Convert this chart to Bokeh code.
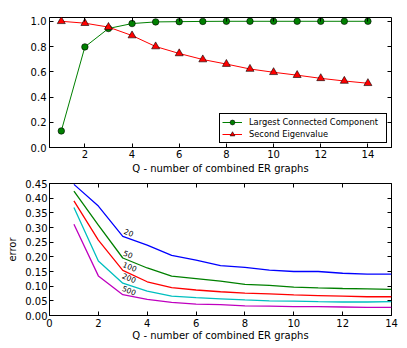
from bokeh.plotting import figure
from bokeh.models import Range1d, LinearAxis, FixedTicker, PrintfTickFormatter
from bokeh.layouts import column
from bokeh.core.properties import value
from bokeh.embed import file_html
from bokeh.resources import INLINE

# ---------------- data ----------------
q = [1, 2, 3, 4, 5, 6, 7, 8, 9, 10, 11, 12, 13, 14]
lcc = [0.131, 0.797, 0.943, 0.982, 0.995, 0.997, 0.999, 1.0, 1.0, 1.0, 1.0, 1.0, 1.0, 1.0]
eig = [1.0, 0.985, 0.954, 0.887, 0.80, 0.745, 0.697, 0.661, 0.622, 0.596, 0.573, 0.548, 0.527, 0.509]

err_20 = [0.447, 0.373, 0.270, 0.240, 0.205, 0.189, 0.170, 0.164, 0.155, 0.150, 0.150, 0.144, 0.141, 0.141]
err_50 = [0.424, 0.308, 0.196, 0.162, 0.134, 0.126, 0.117, 0.106, 0.103, 0.097, 0.094, 0.092, 0.091, 0.089]
err_100 = [0.391, 0.257, 0.154, 0.115, 0.095, 0.087, 0.081, 0.076, 0.074, 0.070, 0.068, 0.066, 0.064, 0.064]
err_200 = [0.368, 0.186, 0.110, 0.083, 0.066, 0.061, 0.057, 0.053, 0.050, 0.049, 0.047, 0.046, 0.046, 0.047]
err_500 = [0.311, 0.135, 0.071, 0.055, 0.045, 0.039, 0.037, 0.033, 0.032, 0.030, 0.030, 0.029, 0.028, 0.028]

curve_labels = ["20", "50", "100", "200", "500"]
label_x = [3.25, 3.22, 3.29, 3.26, 3.26]
label_y = [0.283, 0.209, 0.167, 0.128, 0.086]

top_xticks = [2, 4, 6, 8, 10, 12, 14]
top_yticks = [0.0, 0.2, 0.4, 0.6, 0.8, 1.0]
bot_xticks = [0, 2, 4, 6, 8, 10, 12, 14]
bot_yticks = [0.0, 0.05, 0.10, 0.15, 0.20, 0.25, 0.30, 0.35, 0.40, 0.45]

xlabel = "Q - number of combined ER graphs"
FONT = "DejaVu Sans"


def style_axis(ax, show_labels=True):
    ax.major_tick_in = 4
    ax.major_tick_out = 0
    ax.minor_tick_line_color = None
    ax.major_tick_line_color = "black"
    ax.axis_line_color = "black"
    ax.major_label_text_font = FONT
    ax.axis_label_text_font = FONT
    ax.axis_label_text_font_size = "10px"
    ax.axis_label_text_font_style = "normal"
    ax.axis_label_text_color = "black"
    if show_labels:
        ax.major_label_text_font_size = "10px"
        ax.major_label_text_color = "black"
    else:
        ax.major_label_text_font_size = "1px"
        ax.major_label_text_color = None
        ax.major_label_standoff = 0


def mirror_axes(p, xt, yt):
    top = LinearAxis(ticker=FixedTicker(ticks=xt))
    style_axis(top, False)
    top.axis_line_color = None
    right = LinearAxis(ticker=FixedTicker(ticks=yt))
    style_axis(right, False)
    right.axis_line_color = None
    p.add_layout(top, "above")
    p.add_layout(right, "right")


# ---------------- top figure ----------------
p1 = figure(width=399, height=176, output_backend="svg", toolbar_location=None,
            x_range=Range1d(0.5, 15), y_range=Range1d(0, 1.03),
            min_border_left=49, min_border_right=8, min_border_top=17, min_border_bottom=27)
p1.xgrid.grid_line_color = None
p1.ygrid.grid_line_color = None
p1.outline_line_color = "black"
p1.outline_line_width = 1
p1.background_fill_color = "white"

p1.xaxis.ticker = FixedTicker(ticks=top_xticks)
p1.yaxis.ticker = FixedTicker(ticks=top_yticks)
p1.xaxis.formatter = PrintfTickFormatter(format="%d")
p1.yaxis.formatter = PrintfTickFormatter(format="%.1f")
for ax in p1.xaxis + p1.yaxis:
    style_axis(ax)
p1.xaxis.axis_label = xlabel
p1.xaxis.major_label_standoff = 2
p1.xaxis.axis_label_standoff = 2
p1.yaxis.major_label_standoff = 3
mirror_axes(p1, top_xticks, top_yticks)

p1.line(q, lcc, line_color="#008000", line_width=1, legend_label="Largest Connected Component")
p1.scatter(q, lcc, marker="circle", size=6.5, fill_color="#008000", line_color="black",
           line_width=0.6, legend_label="Largest Connected Component")
p1.line(q, eig, line_color="#ff0000", line_width=1, legend_label="Second Eigenvalue")
p1.scatter(q, eig, marker="triangle", size=8, fill_color="#ff0000", line_color="black",
           line_width=0.6, legend_label="Second Eigenvalue")

lg = p1.legend[0]
lg.location = "bottom_right"
lg.margin = 4
lg.padding = 2
lg.spacing = 0
lg.glyph_width = 20
lg.glyph_height = 12
lg.label_height = 12
lg.label_width = 135
lg.label_standoff = 7
lg.label_text_font = FONT
lg.label_text_font_size = "8.3px"
lg.label_text_color = "black"
lg.border_line_color = "black"
lg.border_line_width = 1
lg.border_line_alpha = 1
lg.background_fill_alpha = 1

# ---------------- bottom figure ----------------
p2 = figure(width=399, height=167, output_backend="svg", toolbar_location=None,
            x_range=Range1d(0, 14), y_range=Range1d(0, 0.45),
            min_border_left=49, min_border_right=8, min_border_top=7, min_border_bottom=28)
p2.xgrid.grid_line_color = None
p2.ygrid.grid_line_color = None
p2.outline_line_color = "black"
p2.outline_line_width = 1

p2.xaxis.ticker = FixedTicker(ticks=bot_xticks)
p2.yaxis.ticker = FixedTicker(ticks=bot_yticks)
p2.xaxis.formatter = PrintfTickFormatter(format="%d")
p2.yaxis.formatter = PrintfTickFormatter(format="%.2f")
for ax in p2.xaxis + p2.yaxis:
    style_axis(ax)
p2.xaxis.axis_label = xlabel
p2.yaxis.axis_label = "error"
p2.xaxis.major_label_standoff = 3
p2.xaxis.axis_label_standoff = 0
p2.yaxis.major_label_standoff = 2
p2.yaxis.axis_label_standoff = 4
mirror_axes(p2, bot_xticks, bot_yticks)

series = [(err_20, "#0000ff"), (err_50, "#008000"), (err_100, "#ff0000"),
          (err_200, "#00bfbf"), (err_500, "#bf00bf")]
for ys, col in series:
    p2.line(q, ys, line_color=col, line_width=1.3)

p2.text(x=label_x, y=label_y, text=curve_labels, angle=-0.38,
        text_font=value(FONT), text_font_size="7.5px", text_color="black",
        text_align="center", text_baseline="middle")

layout = column(p1, p2, spacing=0)
open("out.html", "w").write(file_html(layout, INLINE))
